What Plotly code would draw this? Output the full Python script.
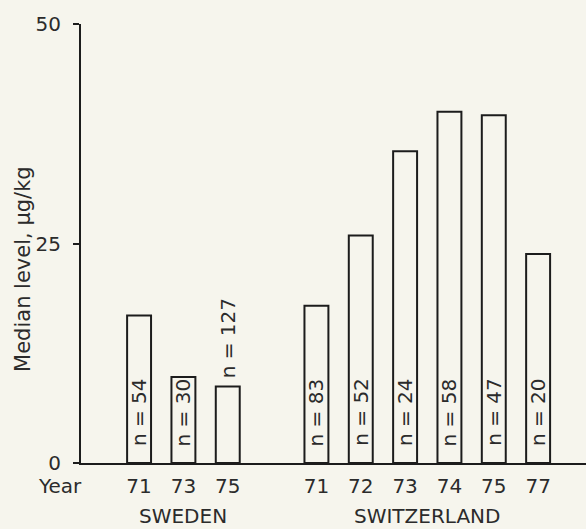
import plotly.graph_objects as go

# Median levels (µg/kg) by year, with sample counts
sweden_years = ["71", "73", "75"]
sweden_median = [16.8, 9.8, 8.7]
sweden_n = [54, 30, 127]

swiss_years = ["71", "72", "73", "74", "75", "77"]
swiss_median = [17.9, 25.9, 35.5, 40.0, 39.6, 23.8]
swiss_n = [83, 52, 24, 58, 47, 20]

y_ticks = [0, 25, 50]

# slot positions along x: one empty slot separates the two countries
sweden_pos = list(range(len(sweden_years)))
swiss_pos = [len(sweden_years) + 1 + i for i in range(len(swiss_years))]

BG = "#f6f5ed"
INK = "#1c1c1c"
TXT = "#2b2b2b"
FONT = "DejaVu Sans"
FS = 20

fig = go.Figure()
for pos, vals in ((sweden_pos, sweden_median), (swiss_pos, swiss_median)):
    fig.add_trace(go.Bar(
        x=pos, y=vals, width=0.54,
        marker=dict(color=BG, line=dict(color=INK, width=2)),
        showlegend=False, hoverinfo="skip",
    ))

# sample-size labels, rotated, at the foot of each bar (above short bars)
for pos, vals, ns in ((sweden_pos, sweden_median, sweden_n), (swiss_pos, swiss_median, swiss_n)):
    for p, v, n in zip(pos, vals, ns):
        inside = v > 9.5
        fig.add_annotation(
            x=p, y=0 if inside else v, xref="x", yref="y",
            text=f"n = {n}", textangle=-90, showarrow=False,
            xanchor="center", yanchor="bottom",
            yshift=15 if inside else 6,
            font=dict(family=FONT, size=FS, color=TXT),
        )

# country labels under the year ticks
for pos, name in ((sweden_pos, "SWEDEN"), (swiss_pos, "SWITZERLAND")):
    fig.add_annotation(x=sum(pos) / len(pos), y=0, xref="x", yref="paper",
                       text=name, showarrow=False,
                       xanchor="center", yanchor="middle", yshift=-53,
                       font=dict(family=FONT, size=FS, color=TXT))

# row caption for the year ticks
fig.add_annotation(x=-0.042, y=0, xref="paper", yref="paper",
                   text="Year", showarrow=False,
                   xanchor="center", yanchor="middle", yshift=-23,
                   font=dict(family=FONT, size=FS, color=TXT))

# y-axis caption
fig.add_annotation(x=-0.116, y=0.443, xref="paper", yref="paper",
                   text="Median level, µg/kg", textangle=-90, showarrow=False,
                   xanchor="center", yanchor="middle",
                   font=dict(family=FONT, size=21, color=TXT))

fig.update_layout(
    width=586, height=529,
    margin=dict(l=81, r=0, t=24, b=66),
    paper_bgcolor=BG, plot_bgcolor=BG,
    barmode="overlay",
    font=dict(family=FONT, size=FS, color=TXT),
    xaxis=dict(
        range=[-1.31, 10.08],
        tickmode="array",
        tickvals=sweden_pos + swiss_pos,
        ticktext=sweden_years + swiss_years,
        showline=True, linecolor=INK, linewidth=2,
        showgrid=False, zeroline=False, ticks="",
        ticklabelstandoff=4,
    ),
    yaxis=dict(
        range=[0, 50],
        tickmode="array", tickvals=y_ticks,
        showline=True, linecolor=INK, linewidth=2,
        ticks="outside", ticklen=6, tickwidth=2, tickcolor=INK,
        showgrid=False, zeroline=False,
        ticklabelstandoff=8,
    ),
)

fig.write_html("out.html")
